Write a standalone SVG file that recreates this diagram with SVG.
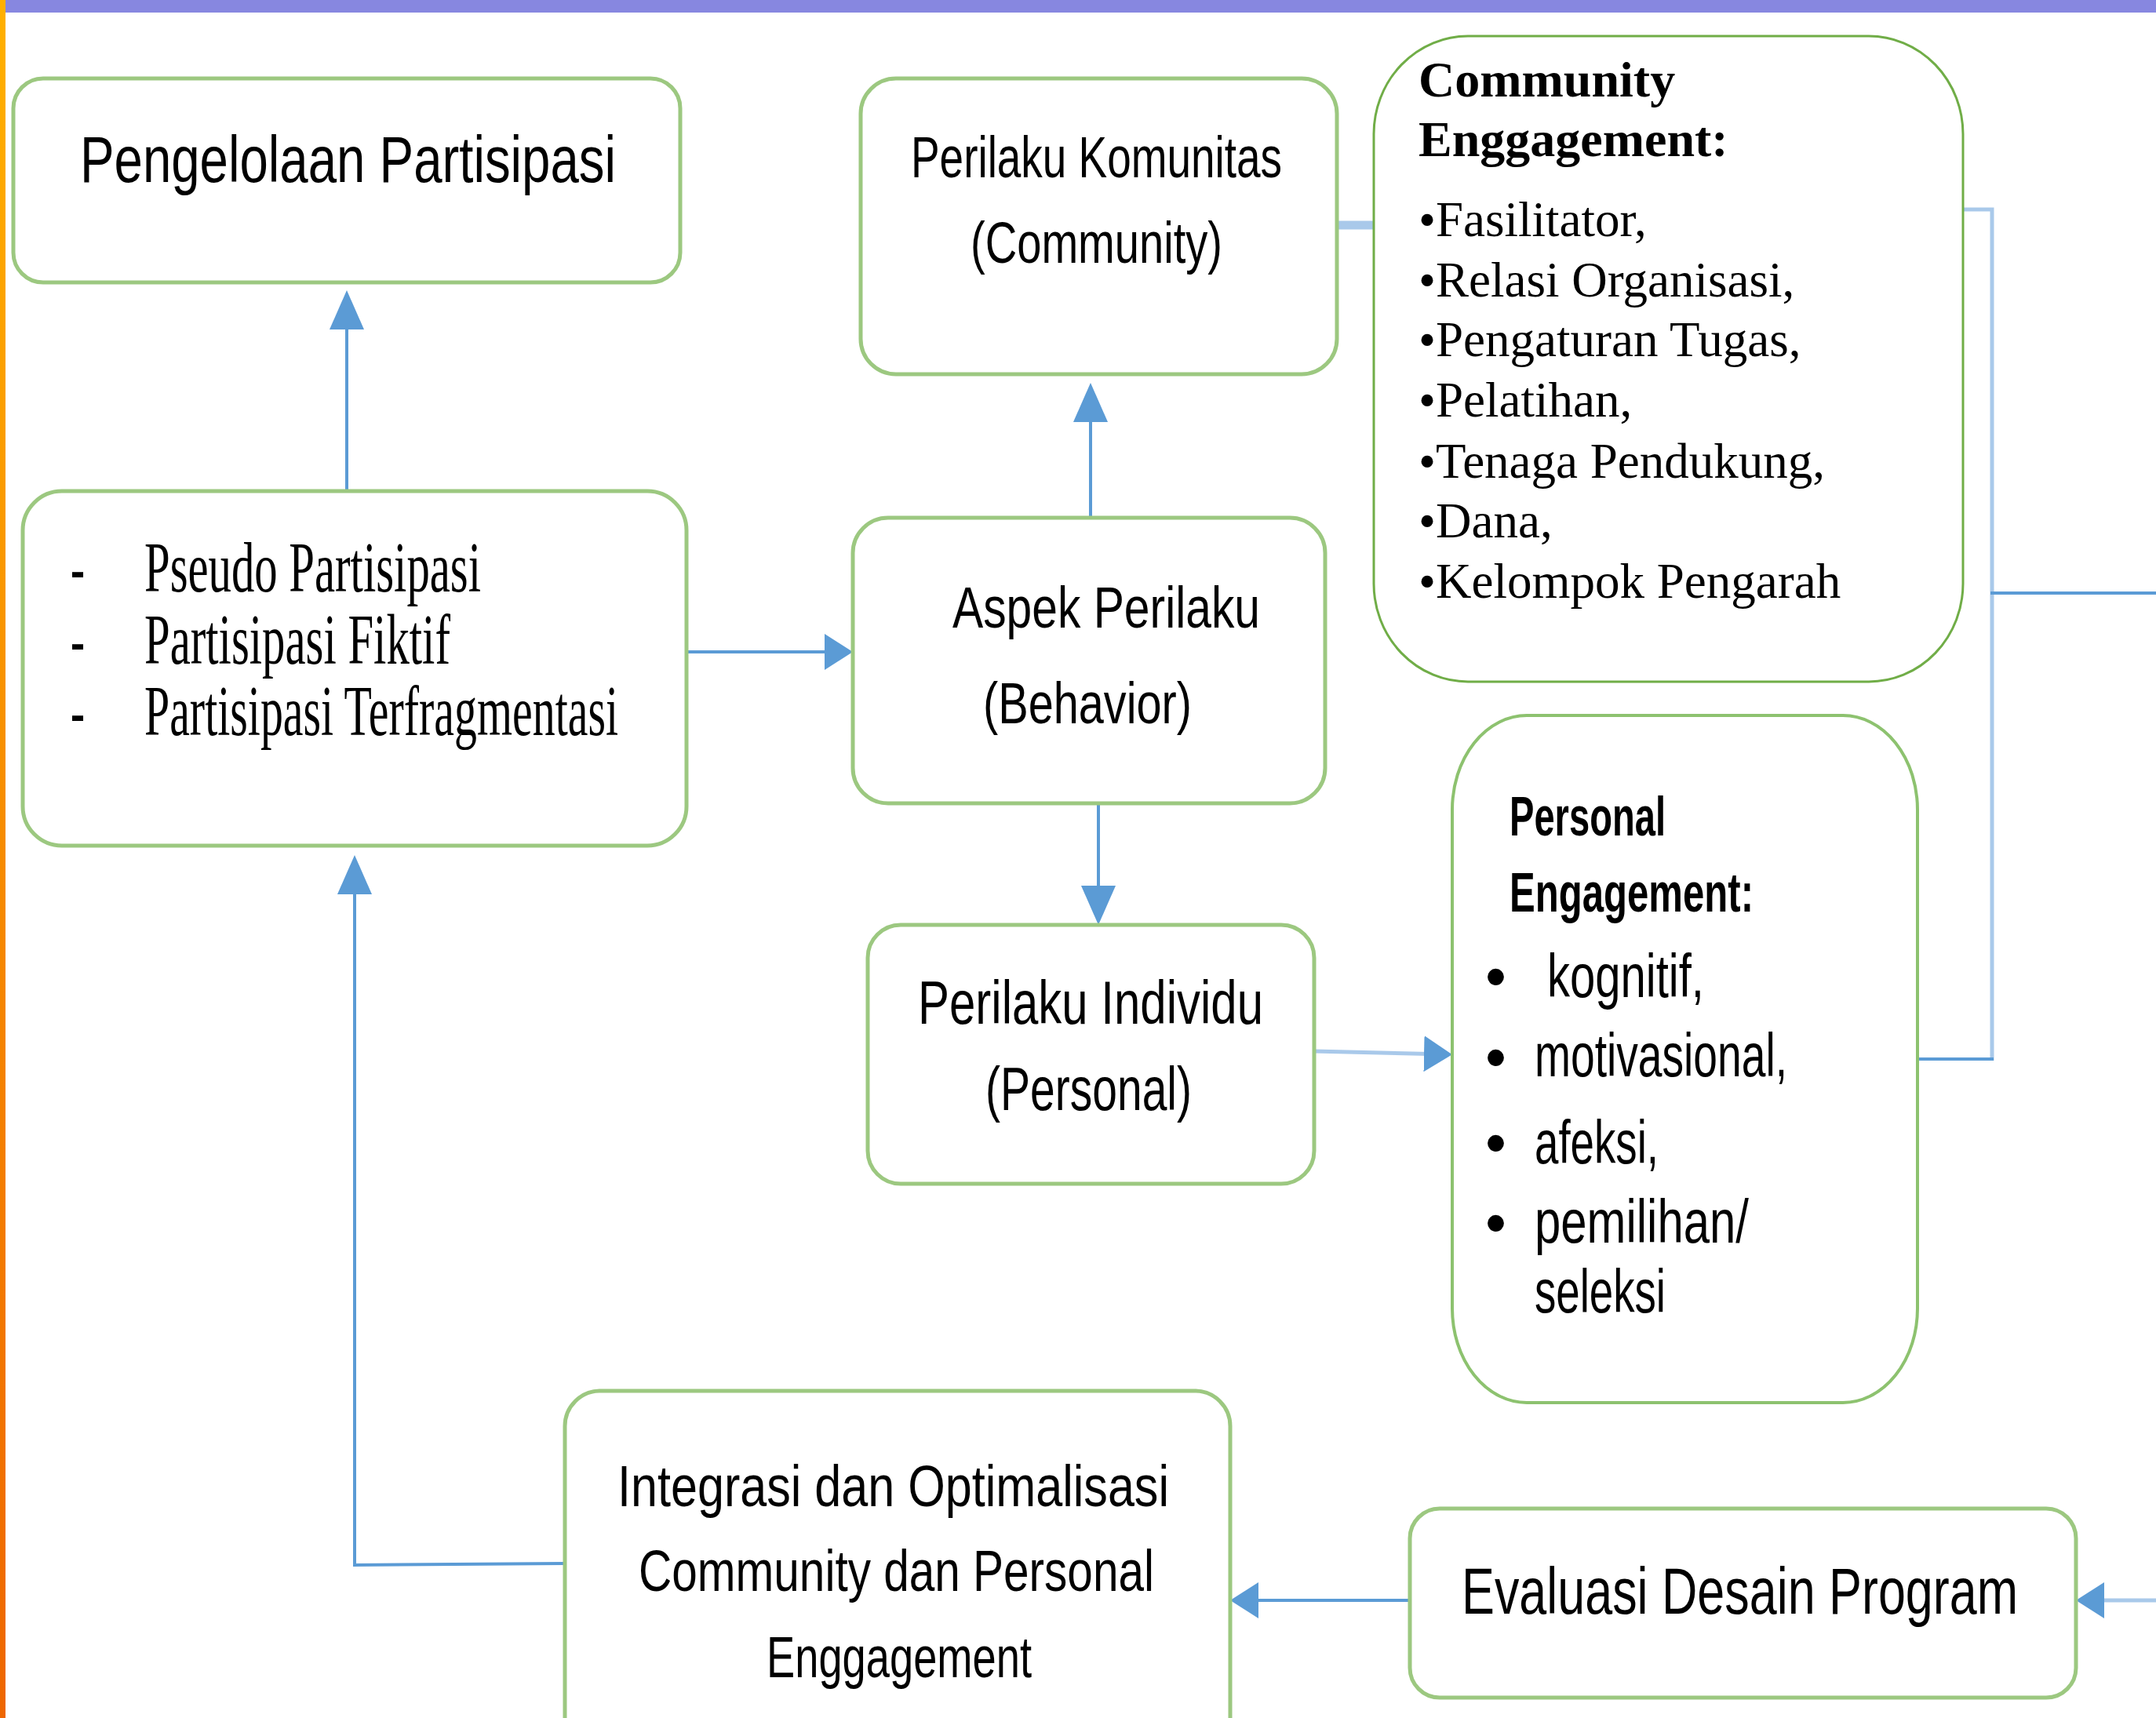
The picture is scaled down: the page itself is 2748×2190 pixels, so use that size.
<svg xmlns="http://www.w3.org/2000/svg" width="2748" height="2190" viewBox="0 0 2748 2190">
<defs>
<linearGradient id="og" x1="0" y1="0" x2="0" y2="1">
<stop offset="0" stop-color="#FFB000"/>
<stop offset="1" stop-color="#EE6600"/>
</linearGradient>
<marker id="arrV" markerUnits="userSpaceOnUse" markerWidth="50" markerHeight="44" refX="40" refY="22" orient="auto">
<path d="M0,0 L50,22 L0,44 z" fill="#5B9BD5"/>
</marker>
<marker id="arrH" markerUnits="userSpaceOnUse" markerWidth="36" markerHeight="46" refX="28" refY="23" orient="auto">
<path d="M0,0 L36,23 L0,46 z" fill="#5B9BD5"/>
</marker>
</defs>
<style>
.box{fill:#FFFFFF;stroke:#9CC880;stroke-width:5}
.box2{fill:#FFFFFF;stroke:#70AD47;stroke-width:3}
.box3{fill:#FFFFFF;stroke:#8DC26F;stroke-width:4}
.sans{font-family:"Liberation Sans",Arial,sans-serif;fill:#000}
.serif{font-family:"Liberation Serif","Times New Roman",serif;fill:#000}
.ln{fill:none;stroke:#5B9BD5;stroke-width:4}
.lt{fill:none;stroke:#A9C9EA;stroke-width:5}
</style>
<rect x="0" y="0" width="2748" height="2190" fill="#FFFFFF"/>
<rect x="0" y="0" width="7" height="2190" fill="url(#og)"/>
<rect x="7" y="0" width="2741" height="16" fill="#8787E0"/>

<g id="connectors">
<line class="ln" x1="442" y1="626" x2="442" y2="380" marker-end="url(#arrV)"/>
<line class="ln" x1="1390" y1="660" x2="1390" y2="498" marker-end="url(#arrV)"/>
<line class="ln" x1="1400" y1="1024" x2="1400" y2="1169" marker-end="url(#arrV)"/>
<line class="ln" x1="876" y1="831" x2="1079" y2="831" marker-end="url(#arrH)"/>
<line class="lt" x1="1675" y1="1340" x2="1843" y2="1344" marker-end="url(#arrH)"/>
<line class="lt" x1="1704" y1="287" x2="1751" y2="287" style="stroke-width:11"/>
<polyline class="lt" points="2502,267 2539,267 2539,1352"/>
<line class="ln" x1="2444" y1="1350" x2="2541" y2="1350"/>
<line class="ln" x1="2537" y1="756" x2="2748" y2="756"/>
<line class="lt" x1="2748" y1="2040" x2="2654" y2="2040" marker-end="url(#arrH)"/>
<line class="ln" x1="1797" y1="2040" x2="1576" y2="2040" marker-end="url(#arrH)"/>
<polyline class="ln" points="720,1993 452,1995 452,1100" marker-end="url(#arrV)"/>
</g>

<g id="node-pengelolaan">
<rect class="box" x="17" y="100" width="850" height="260" rx="38"/>
<text class="sans" x="102" y="232" font-size="84" textLength="683" lengthAdjust="spacingAndGlyphs">Pengelolaan Partisipasi</text>
</g>

<g id="node-komunitas">
<rect class="box" x="1097" y="100" width="607" height="377" rx="45"/>
<text class="sans" x="1161" y="226" font-size="75" textLength="473" lengthAdjust="spacingAndGlyphs">Perilaku Komunitas</text>
<text class="sans" x="1237" y="335" font-size="75" textLength="321" lengthAdjust="spacingAndGlyphs">(Community)</text>
</g>

<g id="node-community-engagement">
<rect class="box2" x="1751" y="46" width="751" height="823" rx="120" ry="125"/>
<text class="serif" x="1808" y="123" font-size="64" font-weight="bold">Community</text>
<text class="serif" x="1808" y="199" font-size="64" font-weight="bold">Enggagement:</text>
<text class="serif" x="1808" y="301" font-size="63">•Fasilitator,</text>
<text class="serif" x="1808" y="378" font-size="63">•Relasi Organisasi,</text>
<text class="serif" x="1808" y="454" font-size="63">•Pengaturan Tugas,</text>
<text class="serif" x="1808" y="531" font-size="63">•Pelatihan,</text>
<text class="serif" x="1808" y="609" font-size="63">•Tenaga Pendukung,</text>
<text class="serif" x="1808" y="685" font-size="63">•Dana,</text>
<text class="serif" x="1808" y="762" font-size="63">•Kelompok Pengarah</text>
</g>

<g id="node-pseudo">
<rect class="box" x="29" y="626" width="846" height="452" rx="50"/>
<text class="serif" x="90" y="754" font-size="90" textLength="18" lengthAdjust="spacingAndGlyphs">-</text>
<text class="serif" x="90" y="846" font-size="90" textLength="18" lengthAdjust="spacingAndGlyphs">-</text>
<text class="serif" x="90" y="937" font-size="90" textLength="18" lengthAdjust="spacingAndGlyphs">-</text>
<text class="serif" x="184" y="754" font-size="90" textLength="429" lengthAdjust="spacingAndGlyphs">Pseudo Partisipasi</text>
<text class="serif" x="184" y="846" font-size="90" textLength="390" lengthAdjust="spacingAndGlyphs">Partisipasi Fiktif</text>
<text class="serif" x="184" y="937" font-size="90" textLength="604" lengthAdjust="spacingAndGlyphs">Partisipasi Terfragmentasi</text>
</g>

<g id="node-aspek">
<rect class="box" x="1087" y="660" width="602" height="364" rx="45"/>
<text class="sans" x="1214" y="800" font-size="74" textLength="392" lengthAdjust="spacingAndGlyphs">Aspek Perilaku</text>
<text class="sans" x="1253" y="922" font-size="74" textLength="266" lengthAdjust="spacingAndGlyphs">(Behavior)</text>
</g>

<g id="node-individu">
<rect class="box" x="1106" y="1179" width="569" height="330" rx="42"/>
<text class="sans" x="1170" y="1305" font-size="77" textLength="440" lengthAdjust="spacingAndGlyphs">Perilaku Individu</text>
<text class="sans" x="1256" y="1415" font-size="77" textLength="263" lengthAdjust="spacingAndGlyphs">(Personal)</text>
</g>

<g id="node-personal-engagement">
<rect class="box3" x="1851" y="912" width="593" height="876" rx="95" ry="120"/>
<text class="sans" x="1924" y="1065" font-size="70" font-weight="bold" textLength="199" lengthAdjust="spacingAndGlyphs">Personal</text>
<text class="sans" x="1924" y="1162" font-size="70" font-weight="bold" textLength="311" lengthAdjust="spacingAndGlyphs">Engagement:</text>
<text class="sans" x="1893" y="1271" font-size="77">•</text>
<text class="sans" x="1893" y="1374" font-size="77">•</text>
<text class="sans" x="1893" y="1483" font-size="77">•</text>
<text class="sans" x="1893" y="1585" font-size="77">•</text>
<text class="sans" x="1972" y="1271" font-size="77" textLength="200" lengthAdjust="spacingAndGlyphs">kognitif,</text>
<text class="sans" x="1956" y="1372" font-size="77" textLength="322" lengthAdjust="spacingAndGlyphs">motivasional,</text>
<text class="sans" x="1956" y="1483" font-size="77" textLength="158" lengthAdjust="spacingAndGlyphs">afeksi,</text>
<text class="sans" x="1956" y="1584" font-size="77" textLength="273" lengthAdjust="spacingAndGlyphs">pemilihan/</text>
<text class="sans" x="1956" y="1673" font-size="77" textLength="167" lengthAdjust="spacingAndGlyphs">seleksi</text>
</g>

<g id="node-integrasi">
<rect class="box" x="720" y="1773" width="848" height="470" rx="45"/>
<text class="sans" x="787" y="1920" font-size="74" textLength="703" lengthAdjust="spacingAndGlyphs">Integrasi dan Optimalisasi</text>
<text class="sans" x="814" y="2028" font-size="74" textLength="657" lengthAdjust="spacingAndGlyphs">Community dan Personal</text>
<text class="sans" x="977" y="2138" font-size="74" textLength="338" lengthAdjust="spacingAndGlyphs">Enggagement</text>
</g>

<g id="node-evaluasi">
<rect class="box" x="1797" y="1923" width="849" height="241" rx="38"/>
<text class="sans" x="1863" y="2057" font-size="84" textLength="709" lengthAdjust="spacingAndGlyphs">Evaluasi Desain Program</text>
</g>
</svg>
